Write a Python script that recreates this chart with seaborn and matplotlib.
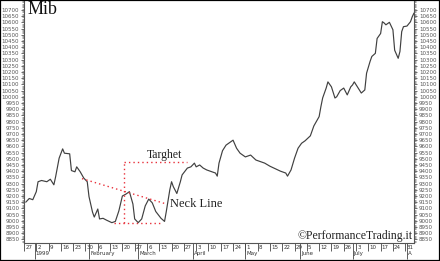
import matplotlib
matplotlib.use('Agg')
import matplotlib.pyplot as plt
from matplotlib.ticker import MultipleLocator, FixedLocator
from matplotlib.patches import Rectangle
from matplotlib.transforms import ScaledTranslation
import seaborn as sns
import pandas as pd

# ---- data ----
dates = [
    '1998-12-27', '1998-12-29', '1998-12-31', '1999-01-02', '1999-01-03', '1999-01-05', '1999-01-08', '1999-01-10', '1999-01-12', '1999-01-13',
    '1999-01-15', '1999-01-17', '1999-01-18', '1999-01-21', '1999-01-22', '1999-01-24', '1999-01-25', '1999-01-27', '1999-01-29', '1999-01-31',
    '1999-02-01', '1999-02-03', '1999-02-04', '1999-02-06', '1999-02-07', '1999-02-09', '1999-02-11', '1999-02-14', '1999-02-16', '1999-02-18',
    '1999-02-20', '1999-02-22', '1999-02-24', '1999-02-26', '1999-02-27', '1999-03-01', '1999-03-03', '1999-03-05', '1999-03-07', '1999-03-09',
    '1999-03-11', '1999-03-14', '1999-03-16', '1999-03-17', '1999-03-19', '1999-03-20', '1999-03-21', '1999-03-23', '1999-03-25', '1999-03-26',
    '1999-03-29', '1999-03-31', '1999-04-02', '1999-04-03', '1999-04-05', '1999-04-07', '1999-04-09', '1999-04-12', '1999-04-14', '1999-04-15',
    '1999-04-16', '1999-04-18', '1999-04-20', '1999-04-23', '1999-04-24', '1999-04-26', '1999-04-28', '1999-05-01', '1999-05-04', '1999-05-07',
    '1999-05-10', '1999-05-12', '1999-05-15', '1999-05-18', '1999-05-21', '1999-05-24', '1999-05-25', '1999-05-27', '1999-05-29', '1999-05-31',
    '1999-06-02', '1999-06-04', '1999-06-07', '1999-06-09', '1999-06-12', '1999-06-13', '1999-06-14', '1999-06-16', '1999-06-17', '1999-06-19',
    '1999-06-21', '1999-06-22', '1999-06-24', '1999-06-26', '1999-06-28', '1999-06-30', '1999-07-01', '1999-07-02', '1999-07-04', '1999-07-06',
    '1999-07-08', '1999-07-09', '1999-07-11', '1999-07-12', '1999-07-14', '1999-07-15', '1999-07-17', '1999-07-18', '1999-07-19', '1999-07-20',
    '1999-07-22', '1999-07-24', '1999-07-25', '1999-07-27', '1999-07-28', '1999-07-29', '1999-07-30', '1999-08-01', '1999-08-03', '1999-08-04',
    '1999-08-05',
]
values = [
    9150, 9180, 9170, 9235, 9315, 9325, 9315, 9335, 9290, 9355,
    9505, 9580, 9545, 9540, 9405, 9395, 9435, 9395, 9345, 9315,
    9195, 9070, 9030, 9095, 9015, 9020, 9005, 8985, 8995, 9080,
    9200, 9215, 9235, 9135, 9015, 8985, 9015, 9120, 9175, 9145,
    9075, 9020, 8995, 9075, 9250, 9315, 9275, 9220, 9315, 9370,
    9425, 9435, 9465, 9435, 9450, 9425, 9410, 9395, 9385, 9360,
    9465, 9565, 9610, 9640, 9650, 9585, 9545, 9515, 9530, 9490,
    9475, 9465, 9440, 9420, 9400, 9385, 9360, 9410, 9505, 9585,
    9625, 9645, 9685, 9765, 9840, 9920, 9990, 10070, 10120, 10080,
    9990, 10000, 10050, 10070, 10015, 10080, 10095, 10120, 10075, 10030,
    10055, 10190, 10285, 10325, 10350, 10470, 10510, 10605, 10595, 10580,
    10600, 10540, 10375, 10310, 10365, 10525, 10565, 10570, 10605, 10645,
    10675,
]

# weekly date row and month row of the time axis
week_dates = pd.date_range('1998-12-26', '1999-07-31', freq='7D')
week_labels = ['27', '2', '9', '16', '23', '30', '6', '13', '20', '27', '6', '13', '20', '27',
               '3', '10', '17', '24', '1', '8', '15', '22', '29', '5', '12', '19', '26',
               '3', '10', '17', '24', '31']
month_dates = pd.to_datetime(['1999-01-01', '1999-02-01', '1999-03-01', '1999-04-01',
                              '1999-05-01', '1999-06-01', '1999-07-01', '1999-08-01'])
month_labels = ['1999', 'February', 'March', 'April', 'May', 'June', 'July', 'A']

y_tick_values = list(range(8850, 10701, 50))

# pattern annotation (neck line and target projection)
neck_dates = pd.to_datetime(['1999-01-28', '1999-03-16'])
neck_values = [9340, 9140]
target_date = pd.Timestamp('1999-02-20 16:00')
target_top, target_bottom = 9475, 8985
target_top_end = pd.Timestamp('1999-03-29')
bottom_dates = pd.to_datetime(['1999-02-15', '1999-03-14'])

# ---- drawing ----
sns.set_style('ticks')
plt.rcParams['font.family'] = ['DejaVu Sans']

fig = plt.figure(figsize=(4.4, 2.61), dpi=100)
ax = fig.add_axes([24 / 440, 1 - 243 / 261, 390 / 440, 242 / 261])

df = pd.DataFrame({'date': pd.to_datetime(dates), 'value': values})
sns.lineplot(data=df, x='date', y='value', ax=ax, color='#404040', linewidth=0.85)

red = '#e8303a'
dots = (0, (1, 2.2))
ax.plot(neck_dates, neck_values, color=red, linestyle=dots, linewidth=1.0)
ax.plot([target_date, target_date], [target_bottom, target_top], color=red,
        linestyle=dots, linewidth=1.0)
ax.plot([target_date, target_top_end], [target_top, target_top], color=red,
        linestyle=dots, linewidth=1.0)
ax.plot(bottom_dates, [target_bottom, target_bottom], color=red,
        linestyle=dots, linewidth=1.0)

serif = ['Liberation Serif', 'DejaVu Serif']
ax.text(pd.Timestamp('1999-03-16'), 9530, 'Targhet', family=serif, fontsize=8.5,
        ha='center', va='center', color='#222')
ax.text(pd.Timestamp('1999-03-19'), 9135, 'Neck Line', family=serif, fontsize=9,
        ha='left', va='center', color='#222')
ax.text(0.008, 0.999, 'Mib', transform=ax.transAxes, family=serif, fontsize=13,
        ha='left', va='top', color='#111')
ax.text(0.997, 0.027, '\u00a9PerformanceTrading.it', transform=ax.transAxes, family=serif,
        fontsize=8.5, ha='right', va='center', color='#222')

# axes limits
ax.set_xlim(pd.Timestamp('1998-12-26 18:00'), pd.Timestamp('1999-08-05'))
ax.set_ylim(8821, 10772)
ax.set_xlabel('')
ax.set_ylabel('')

# y axis: ruler style on both sides
ax.yaxis.set_major_locator(FixedLocator(y_tick_values))
ax.yaxis.set_minor_locator(MultipleLocator(10))
ax.tick_params(axis='y', which='both', left=True, right=True, labelleft=True,
               labelright=True, direction='out', colors='#555', labelcolor='#555')
ax.tick_params(axis='y', which='major', length=2.5, width=0.6, labelsize=4, pad=1)
ax.tick_params(axis='y', which='minor', length=1.2, width=0.4)

# x axis: week row and month row
ax.xaxis.remove_overlapping_locs = False
ax.set_xticks(week_dates, week_labels, ha='left')
ax.set_xticks(month_dates, month_labels, minor=True, ha='left')
ax.tick_params(axis='x', which='major', direction='out', length=5.5, width=0.6,
               labelsize=4, pad=-3.8, colors='#444', labelcolor='#333')
ax.tick_params(axis='x', which='minor', direction='out', length=11.5, width=0.6,
               labelsize=4, pad=-5.4, colors='#444', labelcolor='#333')
shift = ScaledTranslation(1.2 / 100, 0, fig.dpi_scale_trans)
for lbl in ax.get_xticklabels(which='both'):
    lbl.set_transform(lbl.get_transform() + shift)

for side in ['left', 'right', 'bottom']:
    ax.spines[side].set_color('#555')
    ax.spines[side].set_linewidth(0.8)
ax.spines['top'].set_visible(False)

fig.patches.append(Rectangle((0, 0), 1, 1, transform=fig.transFigure, fill=False,
                             edgecolor='black', linewidth=1.6))

fig.savefig('out.png', dpi=100)
